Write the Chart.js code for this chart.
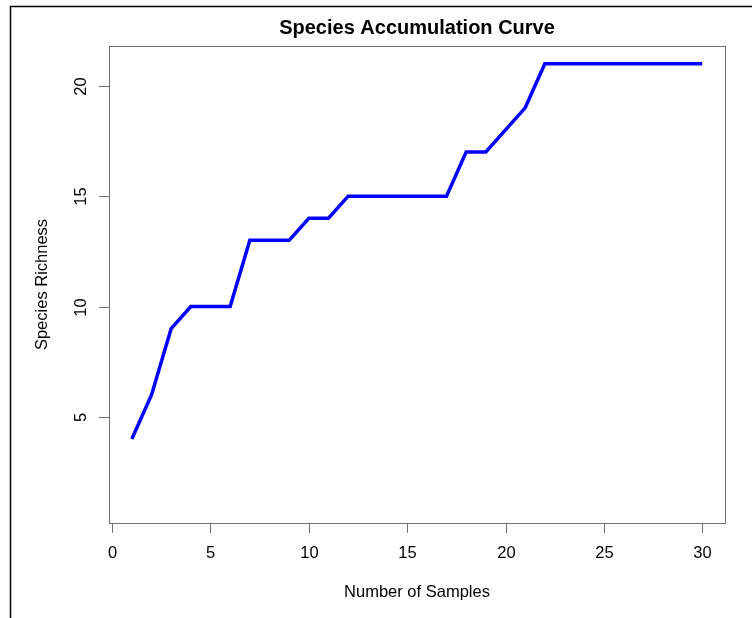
<!DOCTYPE html>
<html>
<head>
<meta charset="utf-8">
<script src="https://cdn.jsdelivr.net/npm/chart.js@4"></script>
<style>
  html, body { margin: 0; padding: 0; background: #fff; }
  canvas { display: block; }
</style>
</head>
<body>
<canvas id="accChart" width="752" height="618"></canvas>
<script>
    const samples = [1, 2, 3, 4, 5, 6, 7, 8, 9, 10, 11, 12, 13, 14, 15, 16, 17, 18, 19, 20, 21, 22, 23, 24, 25, 26, 27, 28, 29, 30];
    const richness = [4, 6, 9, 10, 10, 10, 13, 13, 13, 14, 14, 15, 15, 15, 15, 15, 15, 17, 17, 18, 19, 21, 21, 21, 21, 21, 21, 21, 21, 21];
    const xTicks = [0, 5, 10, 15, 20, 25, 30];
    const yTicks = [5, 10, 15, 20];

    const titleText = 'Species Accumulation Curve';
    const xTitle = 'Number of Samples';
    const yTitle = 'Species Richness';

    // R-style box, ticks, labels and frame
    const basePlot = {
        id: 'basePlot',
        afterDraw(chart) {
            const c = chart.ctx;
            const a = chart.chartArea;
            const xs = chart.scales.x, ys = chart.scales.y;
            c.save();

            // outer frame
            c.strokeStyle = '#000';
            c.lineWidth = 1.5;
            c.beginPath();
            c.moveTo(752, 6.5);
            c.lineTo(10.5, 6.5);
            c.lineTo(10.5, 618);
            c.stroke();

            // plot box
            c.strokeStyle = '#707070';
            c.lineWidth = 1;
            c.strokeRect(Math.round(a.left) + 0.5, Math.round(a.top) + 0.5,
                Math.round(a.right - a.left), Math.round(a.bottom - a.top));

            c.fillStyle = '#000';
            c.font = '16.5px "Liberation Sans", Arial, sans-serif';

            // x ticks
            c.textAlign = 'center';
            c.textBaseline = 'middle';
            xTicks.forEach(t => {
                const px = Math.round(xs.getPixelForValue(t)) + 0.5;
                c.beginPath();
                c.moveTo(px, a.bottom);
                c.lineTo(px, a.bottom + 10);
                c.stroke();
                c.fillText(String(t), px, 553);
            });

            // y ticks (labels rotated like R)
            yTicks.forEach(t => {
                const py = Math.round(ys.getPixelForValue(t)) + 0.5;
                c.beginPath();
                c.moveTo(a.left, py);
                c.lineTo(a.left - 10, py);
                c.stroke();
                c.save();
                c.translate(81, py);
                c.rotate(-Math.PI / 2);
                c.fillText(String(t), 0, 0);
                c.restore();
            });

            // axis titles
            c.fillText(xTitle, (a.left + a.right) / 2, 592);
            c.save();
            c.translate(42, (a.top + a.bottom) / 2);
            c.rotate(-Math.PI / 2);
            c.fillText(yTitle, 0, 0);
            c.restore();

            // main title
            c.font = 'bold 20px "Liberation Sans", Arial, sans-serif';
            c.fillText(titleText, (a.left + a.right) / 2, 28);

            c.restore();
        }
    };

    const ctx = document.getElementById('accChart').getContext('2d');
    new Chart(ctx, {
        type: 'line',
        data: {
            labels: samples,
            datasets: [{
                label: 'Richness',
                data: samples.map((s, i) => ({ x: s, y: richness[i] })),
                borderColor: '#0000ff',
                borderWidth: 3.5,
                pointRadius: 0,
                tension: 0,
                fill: false
            }]
        },
        options: {
            responsive: false,
            animation: false,
            layout: { padding: { left: 109, top: 46, right: 27, bottom: 95 } },
            plugins: { legend: { display: false }, tooltip: { enabled: false }, title: { display: false } },
            scales: {
                x: { type: 'linear', min: -0.16, max: 31.16, display: false },
                y: { type: 'linear', min: 0.2, max: 21.8, display: false }
            }
        },
        plugins: [basePlot]
    });
</script>
</body>
</html>
